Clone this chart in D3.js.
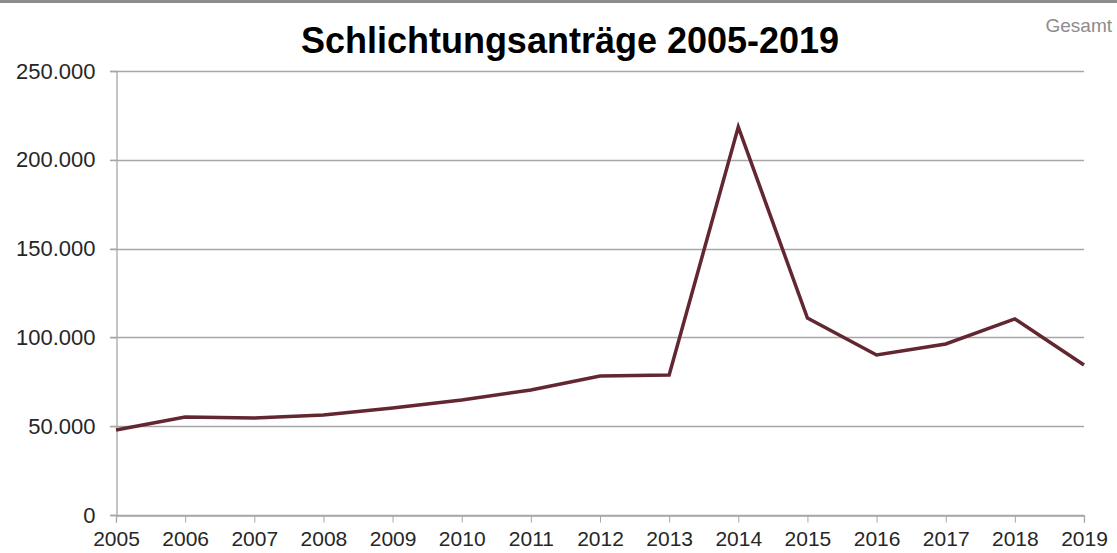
<!DOCTYPE html>
<html>
<head>
<meta charset="utf-8">
<script src="https://cdn.jsdelivr.net/npm/d3@7"></script>
<style>
  html, body { margin: 0; padding: 0; background: #fff; }
  svg { display: block; font-family: "Liberation Sans", Arial, sans-serif; }
</style>
</head>
<body>
<div id="chart"></div>
<script>
// data
var years = [2005, 2006, 2007, 2008, 2009, 2010, 2011, 2012, 2013, 2014, 2015, 2016, 2017, 2018, 2019];
var antraege = [47900, 55200, 54600, 56300, 60200, 64800, 70400, 78300, 78800, 218500, 110900, 90100, 96300, 110400, 84500];
var yTicks = [0, 50000, 100000, 150000, 200000, 250000];

var width = 1117, height = 553;
var margin = {top: 71, right: 33, bottom: 38, left: 116};

var svg = d3.select("#chart").append("svg")
    .attr("width", width)
    .attr("height", height);

// grey strip along the top edge
svg.append("rect")
    .attr("x", 0).attr("y", 0)
    .attr("width", width).attr("height", 3)
    .attr("fill", "#8c8c8c");

var x = d3.scaleLinear()
    .domain([years[0], years[years.length - 1]])
    .range([margin.left, width - margin.right]);

var y = d3.scaleLinear()
    .domain([0, 250000])
    .range([height - margin.bottom, margin.top]);

var fmt = function(d) {
    return d === 0 ? "0" : d3.format(",")(d).replace(/,/g, ".");
};

// gridlines
svg.append("g")
    .selectAll("line")
    .data(yTicks)
    .join("line")
    .attr("x1", margin.left - 6)
    .attr("x2", width - margin.right)
    .attr("y1", d => Math.round(y(d)) + 0.5)
    .attr("y2", d => Math.round(y(d)) + 0.5)
    .attr("stroke", "#a6a6a6")
    .attr("stroke-width", 1.3);

// y axis
var yAxis = svg.append("g")
    .attr("transform", "translate(" + (margin.left + 0.5) + ",0)")
    .call(d3.axisLeft(y).tickValues(yTicks).tickFormat(fmt).tickSize(6).tickPadding(15));
yAxis.select(".domain").attr("stroke", "#a6a6a6").attr("stroke-width", 1.3);
yAxis.selectAll(".tick line").attr("stroke", "#a6a6a6");
yAxis.selectAll("text")
    .attr("font-size", 22)
    .attr("fill", "#262626")
    .attr("font-family", "Liberation Sans, Arial, sans-serif");

// x axis - labels sit right at the bottom edge like in the original
var xAxis = svg.append("g")
    .attr("transform", "translate(0," + (Math.round(y(0)) + 0.5) + ")")
    .call(d3.axisBottom(x).tickValues(years).tickFormat(d3.format("d")).tickSize(7).tickPadding(9));
xAxis.select(".domain").attr("stroke", "#a6a6a6").attr("stroke-width", 1.3);
xAxis.selectAll(".tick line").attr("stroke", "#a6a6a6");
xAxis.selectAll("text")
    .attr("font-size", 21)
    .attr("fill", "#262626")
    .attr("font-family", "Liberation Sans, Arial, sans-serif");

// the line
var line = d3.line()
    .x((d, i) => x(years[i]))
    .y(d => y(d));

svg.append("path")
    .datum(antraege)
    .attr("d", line)
    .attr("fill", "none")
    .attr("stroke", "#632731")
    .attr("stroke-width", 3.5)
    .attr("stroke-linejoin", "miter");

// title
svg.append("text")
    .attr("x", 570)
    .attr("y", 53)
    .attr("text-anchor", "middle")
    .attr("font-size", 36)
    .attr("font-weight", "bold")
    .attr("fill", "#000")
    .text("Schlichtungsanträge 2005-2019");

svg.append("text")
    .attr("x", 1112)
    .attr("y", 32)
    .attr("text-anchor", "end")
    .attr("font-size", 19)
    .attr("fill", "#8c8c8c")
    .text("Gesamt");
</script>
</body>
</html>
